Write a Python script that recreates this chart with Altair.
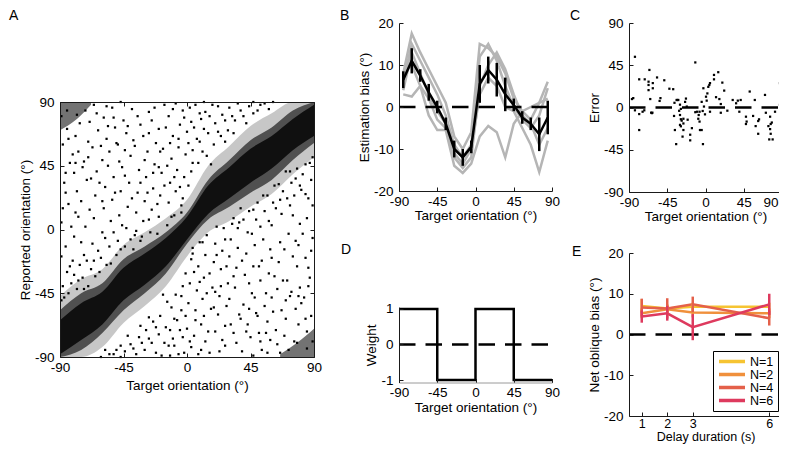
import altair as alt
import pandas as pd

FONT = "Liberation Sans"
W, H = 771, 439

# ---------------- Panel A (reported vs target orientation) ----------------
# dense diagonal band, read as lower/upper edges of three density levels
band_x = [-90, -75, -60, -45, -30, -15, 0, 15, 30, 45, 60, 75, 90]
halo_lo = [-90, -90, -83, -66, -54, -40, -19, -2, 6, 16, 25, 39, 51]
halo_hi = [-47, -35, -28, -11, -2, 8, 21, 45, 59, 73, 82, 90, 90]
band_lo = [-90, -85, -73, -57, -45, -31, -10, 7, 16, 26, 35, 49, 61]
band_hi = [-57, -45, -38, -21, -12, -2, 12, 35, 49, 63, 72, 84, 90]
core_lo = [-88, -78, -67, -50, -39, -26, -7, 11, 22, 33, 43, 56, 66]
core_hi = [-64, -52, -44, -27, -17, -6, 9, 31, 44, 57, 66, 78, 88]
corner_tl_x = [-90, -78, -68]
corner_tl_lo = [70, 78, 88]
corner_tl_hi = [90, 90, 90]
corner_br_x = [66, 78, 90]
corner_br_lo = [-90, -90, -90]
corner_br_hi = [-88, -80, -70]
# scattered responses away from the band
scatter_a = [
    (-88, -40), (-85, -30), (-86, -12), (-89, 5), (-84, 18), (-87, 33), (-83, 47), (-88, 60), (-85, 71),
    (-81, -22), (-80, -5), (-79, 12), (-78, 27), (-80, 40), (-77, 55), (-79, 66), (-76, 75), (-74, -34),
    (-73, -18), (-72, 2), (-75, 20), (-71, 35), (-73, 48), (-70, 62), (-72, 84), (-68, -28), (-67, -10),
    (-66, 8), (-65, 24), (-64, 41), (-67, 58), (-63, 70), (-66, 88), (-61, -20), (-60, -2), (-59, 15),
    (-58, 30), (-60, 49), (-57, 64), (-59, 79), (-55, -12), (-54, 6), (-53, 21), (-52, 37), (-55, 55),
    (-51, 72), (-53, 86), (-49, -8), (-48, 10), (-47, 27), (-46, 44), (-49, 60), (-45, 77), (-43, 1),
    (-42, 16), (-41, 33), (-40, 52), (-43, 68), (-39, 85), (-37, -4), (-36, 12), (-35, 26), (-34, 42),
    (-37, 59), (-33, 74), (-31, 6), (-30, 20), (-29, 37), (-28, 55), (-31, 66), (-27, 83), (-25, 14),
    (-24, 29), (-23, 46), (-22, 61), (-25, 77), (-20, 9), (-19, 24), (-18, 40), (-17, 57), (-20, 71),
    (-16, 88), (-13, 19), (-12, 33), (-11, 50), (-10, 66), (-13, 80), (-8, 27), (-7, 42), (-6, 58),
    (-5, 74), (-8, 89), (-3, 22), (-2, 37), (-1, 53), (0, 69), (-3, 84), (3, 41), (4, 56), (5, 72),
    (2, 86), (8, 47), (9, 62), (10, 78), (12, 90), (14, 52), (15, 68), (13, 83), (19, 60), (20, 75),
    (18, 88), (24, 66), (25, 81), (29, 70), (30, 86), (34, 77), (36, 89), (40, 80), (44, 87), (50, 84),
    (55, 89), (-89, -50), (-84, -45), (-82, -38), (-78, -42), (-76, -25), (-70, -40), (-62, -30),
    (-57, -25), (-50, -18), (-44, -12), (-38, -14), (-32, -5), (-26, -2), (-21, -3), (-14, 3), (-9, 10),
    (-4, 12),
    (-87, -48), (-83, -26), (-89, -19), (-82, 2), (-86, 26), (-81, 53), (-89, 80), (-84, 64), (-77, -36),
    (-75, -9), (-77, 9), (-74, 44), (-78, 81), (-71, -22), (-69, 14), (-70, 51), (-69, 76), (-65, -33),
    (-63, -15), (-62, 33), (-61, 59), (-64, 82), (-58, -6), (-56, 45), (-57, 87), (-54, -24), (-51, 26),
    (-50, 61), (-52, 79), (-47, -14), (-46, 3), (-44, 38), (-42, 73), (-47, 90), (-40, -7), (-39, 22),
    (-38, 63), (-35, 80), (-33, -8), (-33, 33), (-30, 49), (-27, 7), (-27, 68), (-24, 40), (-23, 86),
    (-21, 18), (-19, 55), (-16, 31), (-15, 72), (-14, 45), (-11, 9), (-10, 85), (-9, 37), (-6, 64),
    (-4, 17), (-2, 79), (1, 31), (1, 61), (4, 47), (6, 88), (7, 64), (11, 55), (12, 71), (16, 80),
    (17, 46), (22, 69), (22, 87), (27, 62), (27, 77), (32, 80), (33, 68), (38, 84), (42, 75), (47, 82),
    (47, 90), (52, 88), (58, 85), (61, 90), (-86, 40), (-80, -32), (-73, -42), (-66, -22), (-60, 20),
    (-52, -2), (-44, 56), (-36, -1), (-28, 26), (-20, 44), (-12, 61), (-5, 30), (3, 76), (9, 82),
    (-48, 48), (-56, 73), (-68, 36), (-79, 47), (-88, 15), (-85, 84),
    (88, 35), (86, 22), (85, 8), (89, -6), (84, -20), (87, -34), (83, -48), (88, -61), (85, -72),
    (81, 28), (80, 4), (79, -11), (78, -26), (80, -41), (77, -56), (79, -67), (76, -79), (74, 33),
    (73, 17), (72, -3), (75, -19), (71, -36), (73, -47), (70, -63), (72, -85), (68, 27), (67, 11),
    (66, -9), (65, -23), (64, -42), (67, -57), (63, -71), (66, -87), (61, 19), (60, 3), (59, -14),
    (58, -31), (60, -48), (57, -65), (59, -78), (55, 13), (54, -7), (53, -22), (52, -36), (55, -54),
    (51, -73), (53, -85), (49, 7), (48, -11), (47, -26), (46, -45), (49, -59), (45, -76), (43, -2),
    (42, -17), (41, -32), (40, -53), (43, -67), (39, -86), (37, 5), (36, -13), (35, -27), (34, -41),
    (37, -60), (33, -73), (31, -7), (30, -19), (29, -38), (28, -54), (31, -67), (27, -82), (25, -15),
    (24, -28), (23, -47), (22, -60), (25, -78), (20, -10), (19, -23), (18, -41), (17, -56), (20, -72),
    (16, -87), (13, -18), (12, -34), (11, -49), (10, -67), (13, -79), (8, -26), (7, -43), (6, -57),
    (5, -75), (8, -88), (3, -21), (2, -38), (1, -52), (0, -70), (3, -83), (-3, -40), (-4, -57),
    (-5, -71), (-2, -87), (-8, -46), (-9, -63), (-10, -77), (-12, -89), (-14, -51), (-15, -69),
    (-13, -82), (-19, -61), (-20, -74), (-18, -89), (-24, -65), (-25, -80), (-29, -71), (-30, -85),
    (-34, -76), (-36, -88), (-40, -81), (-44, -86), (-50, -85), (-55, -88), (89, 51), (84, 46),
    (82, 39), (78, 43), (76, 24), (70, 41), (62, 31), (57, 24), (50, 19), (44, 13), (38, 15), (32, 4),
    (26, 1), (21, 2), (14, -4), (9, -9), (4, -13),
    (87, 47), (84, 25), (89, 17), (82, -3), (86, -27), (81, -52), (89, -79), (84, -63), (77, 36),
    (75, 10), (77, -8), (74, -44), (78, -80), (71, 22), (69, -14), (70, -50), (69, -75), (65, 32),
    (63, 15), (62, -33), (61, -58), (64, -81), (58, 6), (56, -45), (57, -87), (54, 24), (51, -26),
    (50, -61), (52, -79), (47, 14), (46, -3), (44, -38), (42, -72), (47, -89), (40, 7), (39, -22),
    (38, -63), (35, -80), (33, 8), (33, -33), (30, -49), (27, -7), (27, -68), (24, -40), (23, -86),
    (21, -18), (19, -55), (16, -31), (15, -72), (14, -45), (11, -9), (10, -85), (9, -37), (6, -64),
    (4, -17), (2, -79), (-1, -31), (-1, -61), (-4, -47), (-6, -88), (-7, -64), (-11, -55), (-12, -71),
    (-16, -80), (-17, -46), (-22, -69), (-22, -87), (-27, -62), (-27, -77), (-32, -80), (-33, -68),
    (-38, -84), (-42, -75), (-47, -82), (-47, -90), (-52, -88), (-58, -85), (-61, -90), (86, -40),
    (80, 31), (73, 41), (66, 21), (60, -20), (52, 2), (44, -56), (36, 1), (28, -26), (20, -44),
    (12, -61), (5, -30), (-3, -76), (-9, -82), (48, -48), (56, -73), (68, -36), (79, -47), (88, -15),
    (85, -84),
]

# ---------------- Panel B (estimation bias) ----------------
bias_x = [-85, -75, -65, -55, -45, -35, -25, -15, -5, 5, 15, 25, 35, 45, 55, 65, 75, 85]
bias_mean = [6.5, 11, 7.5, 3.5, 0, -4, -10, -12, -9.5, 5.5, 8.8, 6.5, 3, 0.5, -2.5, -4, -6.5, -2.5]
bias_err = [2, 3, 1.5, 2, 1.5, 1.5, 2, 2, 1.5, 4.5, 3.2, 4, 4, 1.5, 1.5, 1.5, 4, 4]
gray_1 = [8, 17.5, 13, 9, 5, 1, -7, -10, -6, 15, 14, 12, 8, 2, -1, -3, 1, 6]
gray_2 = [6, 15, 11, 7, 3, -2, -9, -12, -9, 12, 15, 11, 5, 0, -3, -5, -2, 4.5]
gray_3 = [4, 13, 8, 3, -1, -4, -12, -14.5, -12, 5, 10, 13, 9, 3, -2, -4, -9, -5]
gray_4 = [8, 10, 5, 2, -3, -5, -11, -13.5, -10, 3, 7, 5, 0, -1, -5, -9, -15.5, -8]
gray_5 = [3, 2.5, 5, -2, -5.5, -5.5, -14, -15.7, -13.5, -7, -4.5, -6, -12, -4, -1, 0, 1, 2]

# ---------------- Panel C (error vs target) ----------------
scatter_c = [
    (-86.5, 9), (-85, 10), (-83, 54), (-83, -3), (-78, 30), (-78, -7), (-78, -24), (-74, -4.5),
    (-71.5, 30), (-67, 27.5), (-66, 40), (-67, 24), (-67, 18.5), (-65, 9), (-64, -5.5), (-62.5, -5.5),
    (-62, 26), (-62, 20.5), (-57, 32), (-53, 10), (-54, 7), (-48.5, 29), (-42.5, 20), (-38, 19.5),
    (-36.5, 5), (-34, 8), (-32, 8), (-37, -9), (-36, -24), (-34.5, -39), (-30, 3), (-29, -1.5),
    (-31, -3.5), (-30, -8), (-29, -12.5), (-28, -14), (-29, -20), (-30, -18.5), (-26, -17), (-26, -24),
    (-27, -31), (-24, 6), (-22, 1), (-23, 9.5), (-21, -13), (-18, -29), (-16, -22), (-18, -35),
    (-10, -4.5), (-8, -8), (-7, -15), (-6.5, -24), (-2.5, 20.5), (-3, -39), (-12, 48), (-7, -4.5),
    (-72, -3), (-63, -6), (-33, 8), (-26, -12), (-12, -5), (-8.5, -12), (-4.5, 6), (-3.3, -3.7),
    (-1.8, 1), (-0.6, -7.3), (-4.5, -24), (0.6, 11.5), (1.4, 7.3), (2.2, 15), (3.3, 22), (4.5, 24),
    (5.3, 26), (5.3, -4.5), (10, 34.7), (10, 30), (15, 37.6), (12.4, 11), (16.3, 9), (18, 3.7),
    (19.8, 26.5), (22, 18), (18, -5.6), (25.7, -3.4), (32, 8), (36, 4.5), (38, 7.3), (41.4, 8),
    (39.8, -4.5), (52, 17), (58, 8), (47.6, -9.8), (48.4, -15), (47.6, -17.6), (56, -9), (59, -19.8),
    (62, -14.4), (63, -12.6), (62, -28), (70, 13.4), (71, -5.6), (76, -9.8), (78, -16), (76.7, -17.6),
    (74, -19.8), (76, -23), (76.7, -28), (75, -34), (79, -34), (81.8, -4.5), (87.6, 26), (87.6, 2.7),
    (89.6, 1),
]

# ---------------- Panel D (weight function) ----------------
weight_x = [-90, -45, -45, 0, 0, 45, 45, 90]
weight_y = [1, 1, -1, -1, 1, 1, -1, -1]

# ---------------- Panel E (net oblique bias vs delay) ----------------
delays = [1, 2, 3, 6]
n_labels = ["N=1", "N=2", "N=4", "N=6"]
n_colors = ["#F6C432", "#F0903C", "#E4604A", "#DE3A5E"]
net_bias = [
    [7.0, 6.4, 6.8, 6.8],
    [5.2, 6.2, 5.4, 5.2],
    [6.6, 6.4, 7.4, 4.0],
    [4.4, 5.2, 1.8, 7.4],
]
net_err = [
    [1.7, 1.0, 1.0, 1.0],
    [1.2, 1.0, 1.2, 1.2],
    [2.2, 2.5, 1.9, 1.8],
    [1.5, 1.8, 3.2, 2.6],
]

orient_ticks = [-90, -45, 0, 45, 90]

# ---------------- panel geometry (pixels inside the plot area) ----------------
PA = dict(xd=[-90, 90], xr=[52, 306], yd=[-90, 90], yr=[349, 94])
PB = dict(xd=[-90, 90], xr=[391, 544], yd=[-20, 20], yr=[183, 15])
PC = dict(xd=[-90, 90], xr=[621, 774], yd=[-90, 90], yr=[184, 15])
PD = dict(xd=[-90, 90], xr=[391, 544], yd=[-1.07, 1.05], yr=[374.5, 299.2])
PE = dict(xd=[0.5, 6.5], xr=[621, 774], yd=[-20, 20], yr=[408, 245])

dummy = pd.DataFrame({"x": [0.0], "y": [0.0]})
FS = 13.5


def sc(domain, rng):
    return alt.Scale(domain=domain, range=rng, nice=False, zero=False)


def enc(p, xf, yf, y2f=None, **extra):
    kw = dict(
        x=alt.X(xf, type="quantitative", scale=sc(p["xd"], p["xr"]), axis=None),
        y=alt.Y(yf, type="quantitative", scale=sc(p["yd"], p["yr"]), axis=None),
    )
    if y2f:
        kw["y2"] = alt.Y2(y2f)
    kw.update(extra)
    return kw


AXBASE = dict(
    grid=False, labelFont=FONT, titleFont=FONT, labelFontSize=FS, titleFontSize=FS,
    labelColor="black", titleColor="black", titleFontWeight="normal", labelOverlap=False,
    labelFlush=False, domainColor="#1a1a1a", tickColor="#1a1a1a", domainWidth=1, tickWidth=1,
    labelExpr="datum.value + ''",
)


def guides(p, xt, yt, xtitle, ytitle, box=False, xlp=3, xtp=1, ylp=6, ytp=2,
           xdomcolor="#1a1a1a", xextra=None):
    x0, x1 = p["xr"]
    yb, ytop = p["yr"]
    xs = sc(p["xd"], p["xr"])
    ys = sc(p["yd"], p["yr"])

    def L(ax, ay):
        return alt.Chart(dummy).mark_point(opacity=0).encode(
            x=alt.X("x:Q", scale=xs, axis=ax), y=alt.Y("y:Q", scale=ys, axis=ay))

    xl = dict(AXBASE, orient="bottom", offset=yb - H, values=xt, title=xtitle, domain=False,
              ticks=False, labelPadding=xlp, titlePadding=xtp)
    if xextra:
        xl.update(xextra)
    yl = dict(AXBASE, orient="left", offset=-x0, values=yt, title=ytitle, domain=False,
              ticks=False, labelPadding=ylp, titlePadding=ytp)
    out = [L(alt.Axis(**xl), alt.Axis(**yl))]
    ex = dict(AXBASE, orient="top", offset=-yb, values=xt, labels=False, title=None, tickSize=4,
              domainColor=xdomcolor, zindex=2)
    ey = dict(AXBASE, orient="right", offset=x0 - W, values=yt, labels=False, title=None, tickSize=4,
              zindex=2)
    out.append(L(alt.Axis(**ex), alt.Axis(**ey)))
    if box:
        bx = dict(AXBASE, orient="bottom", offset=ytop - H, values=xt, labels=False, title=None,
                  tickSize=4, zindex=2)
        by = dict(AXBASE, orient="left", offset=-x1, values=yt, labels=False, title=None, tickSize=4,
                  zindex=2)
        out.append(L(alt.Axis(**bx), alt.Axis(**by)))
    return out


def dashed_zero(p, xa, xb):
    df = pd.DataFrame({"x": [xa, xb], "y": [0, 0]})
    return alt.Chart(df).mark_line(color="black", strokeWidth=2.5, strokeDash=[16.5, 10]).encode(
        **enc(p, "x", "y"))


layers = []

# ---- A ----
band_df = pd.DataFrame({"x": band_x, "hl": halo_lo, "hh": halo_hi, "bl": band_lo, "bh": band_hi,
                        "cl": core_lo, "ch": core_hi})
layers.append(alt.Chart(band_df).mark_area(color="black", opacity=0.22, interpolate="monotone").encode(
    **enc(PA, "x", "hl", "hh")))
layers.append(alt.Chart(band_df).mark_area(color="black", opacity=0.6, interpolate="monotone").encode(
    **enc(PA, "x", "bl", "bh")))
layers.append(alt.Chart(band_df).mark_area(color="black", opacity=0.8, interpolate="monotone").encode(
    **enc(PA, "x", "cl", "ch")))
tl_df = pd.DataFrame({"x": corner_tl_x, "lo": corner_tl_lo, "hi": corner_tl_hi})
br_df = pd.DataFrame({"x": corner_br_x, "lo": corner_br_lo, "hi": corner_br_hi})
layers.append(alt.Chart(tl_df).mark_area(color="black", opacity=0.55, interpolate="monotone").encode(
    **enc(PA, "x", "lo", "hi")))
layers.append(alt.Chart(br_df).mark_area(color="black", opacity=0.55, interpolate="monotone").encode(
    **enc(PA, "x", "lo", "hi")))
sa_df = pd.DataFrame(scatter_a, columns=["x", "y"])
layers.append(alt.Chart(sa_df).mark_square(size=5, color="black", opacity=1).encode(**enc(PA, "x", "y")))
layers += guides(PA, orient_ticks, orient_ticks, "Target orientation (°)", "Reported orientation (°)",
                 box=True, xtp=5)

# ---- B ----
gray_df = pd.DataFrame([
    {"x": x, "y": v, "s": i}
    for i, g in enumerate([gray_1, gray_2, gray_3, gray_4, gray_5])
    for x, v in zip(bias_x, g)
])
mean_df = pd.DataFrame({"x": bias_x, "m": bias_mean,
                        "lo": [m - e for m, e in zip(bias_mean, bias_err)],
                        "hi": [m + e for m, e in zip(bias_mean, bias_err)]})
layers.append(alt.Chart(gray_df).mark_line(color="#b5b5b5", strokeWidth=2.5).encode(
    **enc(PB, "x", "y", detail="s:N")))
layers.append(dashed_zero(PB, -90, 90))
layers.append(alt.Chart(mean_df).mark_line(color="black", strokeWidth=2.5).encode(**enc(PB, "x", "m")))
layers.append(alt.Chart(mean_df).mark_rule(color="black", strokeWidth=2.5).encode(**enc(PB, "x", "lo", "hi")))
layers += guides(PB, orient_ticks, [-20, -10, 0, 10, 20], "Target orientation (°)", "Estimation bias (°)")

# ---- C ----
sc_df = pd.DataFrame(scatter_c, columns=["x", "y"])
layers.append(alt.Chart(sc_df).mark_square(size=5, color="black", opacity=1).encode(**enc(PC, "x", "y")))
layers.append(dashed_zero(PC, -90, 90))
layers += guides(PC, orient_ticks, orient_ticks, "Target orientation (°)", "Error",
                 xextra=dict(
                     labelAlign={"condition": {"test": "datum.value == 90", "value": "right"},
                                 "value": "center"},
                     labelOffset={"condition": {"test": "datum.value == 90", "value": -4},
                                  "value": 0}))

# ---- D ----
w_df = pd.DataFrame({"x": weight_x, "y": weight_y, "i": list(range(len(weight_x)))})
layers.append(dashed_zero(PD, -90, 90))
layers.append(alt.Chart(w_df).mark_line(color="black", strokeWidth=2.5).encode(
    **enc(PD, "x", "y", order=alt.Order("i:Q"))))
layers += guides(PD, orient_ticks, [-1, 0, 1], "Target orientation (°)", "Weight", xdomcolor="#9a9a9a")

# ---- E ----
e_df = pd.DataFrame([
    {"n": n_labels[k], "d": d, "b": net_bias[k][j],
     "lo": net_bias[k][j] - net_err[k][j], "hi": net_bias[k][j] + net_err[k][j]}
    for k in range(len(n_labels)) for j, d in enumerate(delays)
])
leg = alt.Legend(orient="none", legendX=705, legendY=343, title=None, symbolType="stroke",
                 symbolStrokeWidth=3.5, symbolSize=676, labelFont=FONT, labelFontSize=12.5,
                 labelColor="black", strokeColor="black", fillColor="white", padding=4,
                 rowPadding=0, clipHeight=13, labelOffset=3)
col = alt.Color("n:N", scale=alt.Scale(domain=n_labels, range=n_colors), legend=leg)
layers.append(dashed_zero(PE, 0.5, 6.5))
layers.append(alt.Chart(e_df).mark_line(strokeWidth=2.5).encode(**enc(PE, "d", "b", color=col)))
layers.append(alt.Chart(e_df).mark_rule(strokeWidth=2.5).encode(**enc(PE, "d", "lo", "hi", color=col)))
layers += guides(PE, delays, [-20, -10, 0, 10, 20], "Delay duration (s)", "Net oblique bias (°)",
                 xlp=1, xtp=1, xextra=dict(labelFontSize=12.5, titleFontSize=12.5))

# ---- panel letters ----
for letter, px, py in [("A", 1, 1), ("B", 332, 1), ("C", 562, 1), ("D", 333, 235), ("E", 564, 237)]:
    layers.append(alt.Chart(dummy).mark_text(text=letter, align="left", baseline="top", fontSize=14,
                                             font=FONT, color="black").encode(
        x=alt.value(px), y=alt.value(py)))

chart = alt.layer(*layers).resolve_scale(x="independent", y="independent").properties(
    width=W, height=H, padding=0, autosize=alt.AutoSizeParams(type="none")
).configure_view(strokeWidth=0)

chart.save("out.html", embed_options={"renderer": "svg", "actions": False})
